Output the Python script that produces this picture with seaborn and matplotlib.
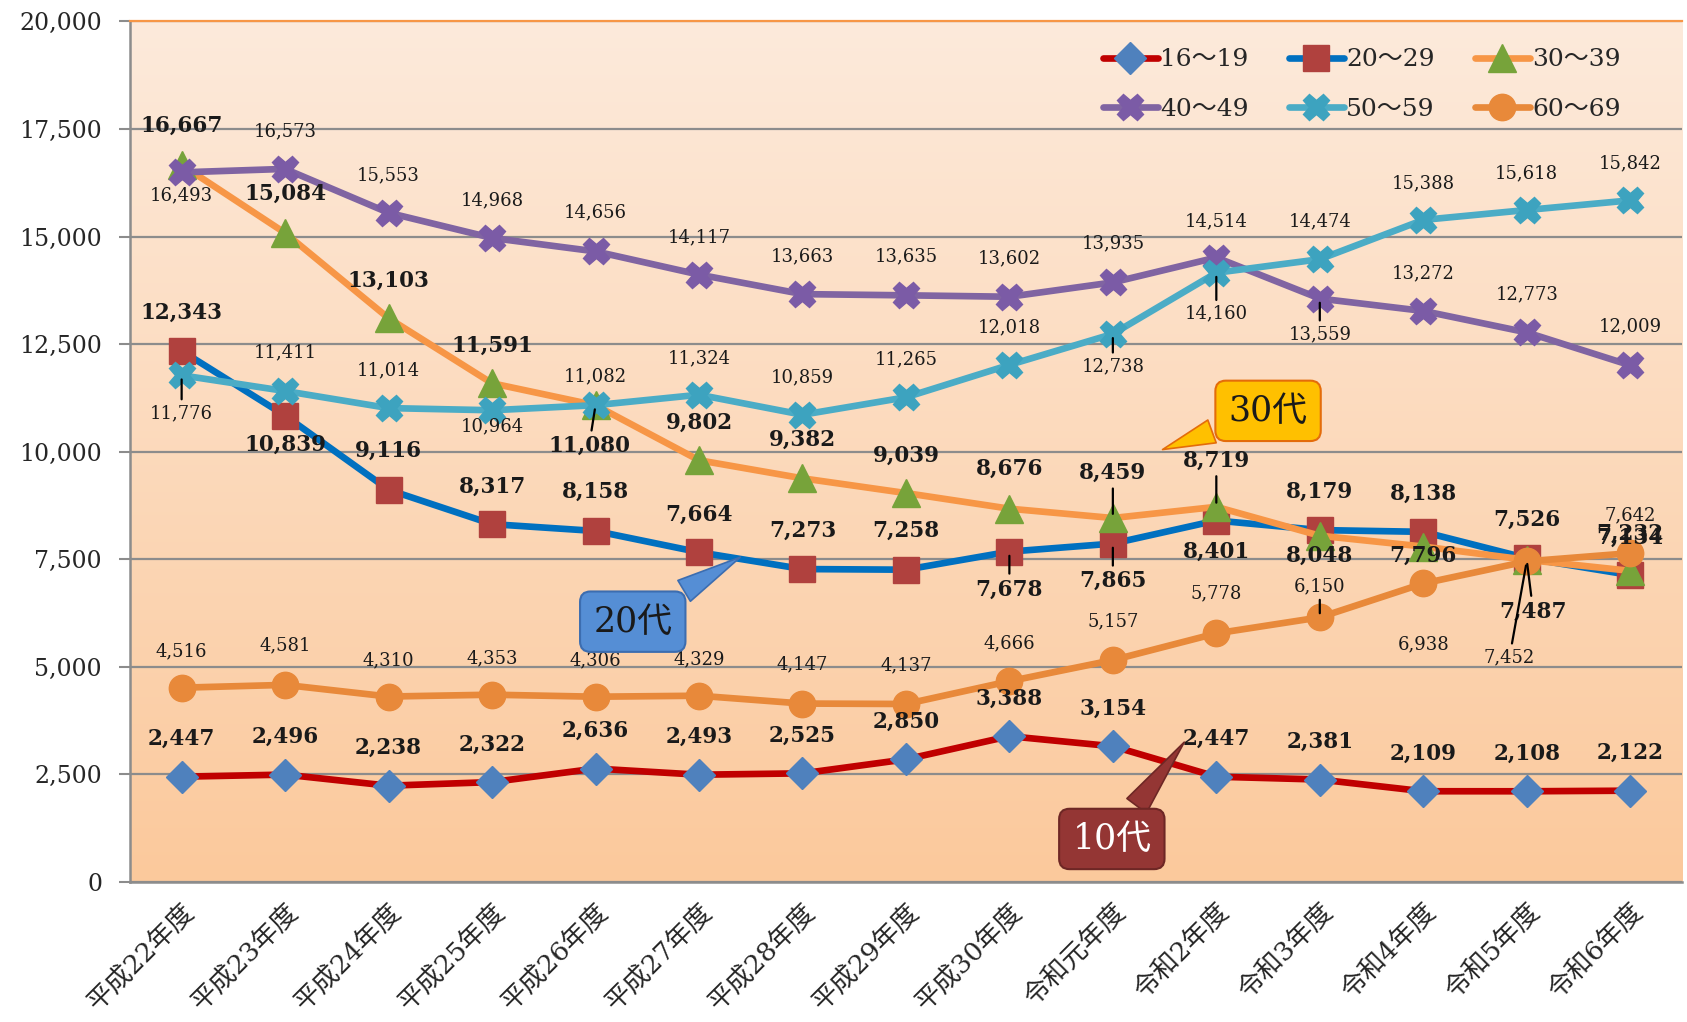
import numpy as np
import pandas as pd
import matplotlib
matplotlib.use('Agg')
import matplotlib.pyplot as plt
import seaborn as sns
from matplotlib.colors import LinearSegmentedColormap

# data
years = ['平成22年度', '平成23年度', '平成24年度', '平成25年度', '平成26年度', '平成27年度',
         '平成28年度', '平成29年度', '平成30年度', '令和元年度', '令和2年度', '令和3年度',
         '令和4年度', '令和5年度', '令和6年度']
groups = ['16～19', '20～29', '30～39', '40～49', '50～59', '60～69']

teens = [2447, 2496, 2238, 2322, 2636, 2493, 2525, 2850, 3388, 3154, 2447, 2381, 2109, 2108, 2122]
twenties = [12343, 10839, 9116, 8317, 8158, 7664, 7273, 7258, 7678, 7865, 8401, 8179, 8138, 7526, 7134]
thirties = [16667, 15084, 13103, 11591, 11080, 9802, 9382, 9039, 8676, 8459, 8719, 8048, 7796, 7487, 7232]
forties = [16493, 16573, 15553, 14968, 14656, 14117, 13663, 13635, 13602, 13935, 14514, 13559, 13272, 12773, 12009]
fifties = [11776, 11411, 11014, 10964, 11082, 11324, 10859, 11265, 12018, 12738, 14160, 14474, 15388, 15618, 15842]
sixties = [4516, 4581, 4310, 4353, 4306, 4329, 4147, 4137, 4666, 5157, 5778, 6150, 6938, 7452, 7642]

series = [teens, twenties, thirties, forties, fifties, sixties]

# styles
line_colors = ['#C00000', '#0070C0', '#F79646', '#8064A2', '#4BACC6', '#E8893A']
marker_colors = ['#4F81BD', '#B0413E', '#77A33A', '#7B5BA6', '#3DA3BF', '#E8893A']
markers = ['D', 's', '^', 'X', 'X', 'o']
msizes = [16, 19, 20, 19, 19, 19]

# label offsets (reference pixels, + = down)
dys = [
    [-35] * 15,
    [-35, 27, -36, -35, -36, -35, -36, -36, 35, 35, 29, -36, -35, -36, -35],
    [-36, -36, -35, -35, 38, -35, -36, -35, -37, -42, -43, 19, 9, 48, -34],
    [21, -35, -35, -35, -36, -35, -35, -36, -36, -36, -34, 33, -35, -35, -36],
    [35, -36, -35, 15, -27, -34, -35, -35, -35, 30, 38, -35, -34, -34, -34],
    [-34, -37, -34, -34, -34, -34, -36, -36, -35, -36, -37, -29, 57, 89, -35],
]
dxs = [{}, {}, {4: -6, 13: 6}, {}, {}, {13: -16}]
leaders = [[], [8, 9], [4, 9, 10, 13], [11], [0, 9, 10], [11, 13]]
bold = [True, True, True, False, False, False]

sns.set_style('white')
plt.rcParams['font.family'] = ['DejaVu Serif', 'Noto Sans CJK JP']

fig = plt.figure(figsize=(16.87, 10.22), dpi=100)
ax = fig.add_axes([0.077, 0.137, 0.92, 0.842])

# gradient background
grad = np.linspace(0, 1, 256).reshape(-1, 1)
cmap = LinearSegmentedColormap.from_list('bg', ['#FDEADB', '#FBC99C'])
ax.imshow(grad, extent=(-0.5, 14.5, 0, 20000), aspect='auto', cmap=cmap, zorder=0)

x = np.arange(len(years))
for k, vals in enumerate(series):
    df = pd.DataFrame({'x': x, 'y': vals})
    sns.lineplot(data=df, x='x', y='y', ax=ax, color=line_colors[k], lw=4.8,
                 marker=markers[k], markersize=msizes[k],
                 markerfacecolor=marker_colors[k], markeredgecolor=marker_colors[k],
                 markeredgewidth=1, zorder=3 + k * 0.1, label=groups[k])

px = 1687 / 1568
for k, vals in enumerate(series):
    for i, v in enumerate(vals):
        dx = dxs[k].get(i, 0)
        dy = dys[k][i]
        kw = {}
        if i in leaders[k]:
            kw['arrowprops'] = dict(arrowstyle='-', color='black', lw=1.6,
                                    shrinkA=1, shrinkB=3)
        ax.annotate(f'{v:,}', xy=(i, v), xytext=(dx * px, -dy * px),
                    textcoords='offset pixels', ha='center', va='center',
                    fontsize=15.5 if bold[k] else 13,
                    fontweight='bold' if bold[k] else 'normal',
                    color='#1a1a1a', family='DejaVu Serif', zorder=12, **kw)


def callout(text, xy, xytext, fc, ec, tc):
    ax.annotate(text, xy=xy, xytext=xytext, textcoords='data',
                ha='center', va='center', fontsize=25, color=tc, zorder=15,
                family=['DejaVu Serif', 'Noto Sans CJK JP'],
                bbox=dict(boxstyle='round,pad=0.38,rounding_size=0.3', fc=fc, ec=ec, lw=1.5),
                arrowprops=dict(arrowstyle='wedge,tail_width=0.7,shrink_factor=0.5',
                                fc=fc, ec=ec, lw=1.2, shrinkB=0))


callout('30代', (9.48, 10050), (10.5, 10950), '#FFC000', '#E46C0A', '#1a1a1a')
callout('20代', (5.4, 7550), (4.36, 6050), '#558ED5', '#3C6DB0', '#1a1a1a')
callout('10代', (9.69, 3250), (8.99, 1000), '#943634', '#6E2725', 'white')

ax.set_xlim(-0.5, 14.5)
ax.set_ylim(0, 20000)
ax.set_yticks(np.arange(0, 20001, 2500))
ax.set_yticklabels([f'{t:,}' for t in range(0, 20001, 2500)], fontsize=17, family='DejaVu Serif')
ax.set_xticks(x)
ax.set_xticklabels(years, rotation=45, ha='right', rotation_mode='anchor', fontsize=19,
                   family=['DejaVu Serif', 'Noto Sans CJK JP'])
ax.set_xticks(np.arange(-0.5, 15, 1), minor=True)
ax.tick_params(axis='x', which='major', length=0, pad=12)
ax.tick_params(axis='x', which='minor', length=8, width=1.5, color='#8C8C8C', direction='out')
ax.tick_params(axis='y', length=8, width=1.5, color='#8C8C8C', direction='out', left=True, pad=12)
ax.set_xlabel('')
ax.set_ylabel('')
ax.yaxis.grid(True, color='#8C8C8C', lw=1.6)
ax.xaxis.grid(False)
ax.set_axisbelow(True)
ax.spines['right'].set_visible(False)
ax.spines['top'].set_color('#F79646')
ax.spines['top'].set_linewidth(1.6)
for s in ['left', 'bottom']:
    ax.spines[s].set_color('#8C8C8C')
    ax.spines[s].set_linewidth(1.8)

h, l = ax.get_legend_handles_labels()
order = [0, 3, 1, 4, 2, 5]
ax.legend([h[i] for i in order], [l[i] for i in order], ncol=3, loc='upper right',
          bbox_to_anchor=(0.975, 0.995), frameon=False, handlelength=2.2,
          columnspacing=1.6, handletextpad=0.1, labelspacing=1.05,
          prop={'family': ['DejaVu Serif', 'Noto Sans CJK JP'], 'size': 18})

fig.savefig('out.png', dpi=100)
